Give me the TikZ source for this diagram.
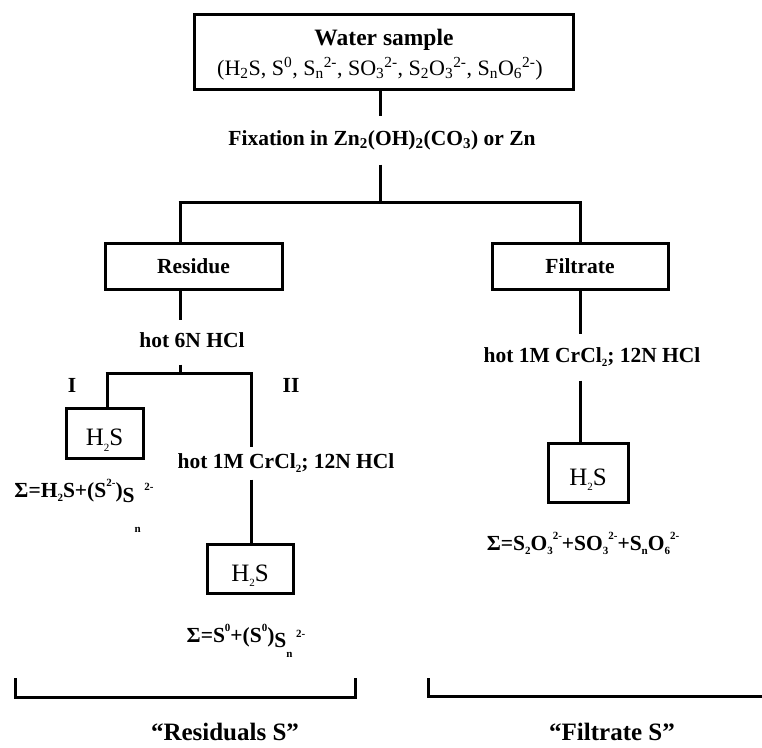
\documentclass[tikz,border=0pt]{standalone}
\usepackage{fontspec}
\setmainfont{Liberation Serif}
\newcommand{\lo}[1]{\raisebox{-0.22em}{\fontsize{11}{11}\selectfont #1}}
\newcommand{\hi}[1]{\raisebox{0.5em}{\fontsize{11}{11}\selectfont #1}}
\newcommand{\bfnt}{\fontsize{21.5}{24}\selectfont\bfseries}
\newcommand{\rfnt}{\fontsize{22}{24}\selectfont}
\newcommand{\hfnt}{\fontsize{25}{27}\selectfont}
\newcommand{\bigbf}{\fontsize{25}{27}\selectfont\bfseries}
\begin{document}
\begin{tikzpicture}[x=1pt,y=-1pt,
  every path/.style={line width=3pt},
  box/.style={draw, line width=3pt, inner sep=2pt},
  hbox/.style={box, font=\hfnt, text height=25pt, text depth=0pt},
  lbl/.style={font=\bfnt, anchor=base, text height=14pt, text depth=4pt, inner xsep=2pt}]
\useasboundingbox (0,0) rectangle (762,747);
% top box
\node[box, minimum width=379pt, minimum height=75pt] (top) at (383.5,51.5) {};
\node[anchor=base, font=\fontsize{23.5}{26}\selectfont\bfseries] (ws) at (384,45) {Water sample};
\node[anchor=base, font=\rfnt] (wf) at (380,75) {(H\textsubscript{2}S, S\textsuperscript{0}, S\textsubscript{n}\textsuperscript{2-}, SO\textsubscript{3}\textsuperscript{2-}, S\textsubscript{2}O\textsubscript{3}\textsuperscript{2-}, S\textsubscript{n}O\textsubscript{6}\textsuperscript{2-})};
\node[lbl, inner ysep=14pt] (fix) at (382,145) {Fixation in Zn\textsubscript{2}(OH)\textsubscript{2}(CO\textsubscript{3}) or Zn};
% second level
\node[box, font=\bfnt, minimum width=177pt, minimum height=46pt, text height=14pt, text depth=0pt] (res) at (193.5,266) {Residue};
\node[box, font=\bfnt, minimum width=176pt, minimum height=46pt, text height=14pt, text depth=0pt] (fil) at (580,266) {Filtrate};
\coordinate (j0) at (380,202);
\coordinate (jl) at (180,202);
\coordinate (jr) at (580,202);
% residue branch
\node[lbl, inner ysep=12pt] (hot6) at (192,347) {hot 6N HCl};
\coordinate (k0) at (180,373);
\coordinate (kl) at (107,373);
\coordinate (kr) at (251,373);
\node[lbl] (one) at (72,392) {I};
\node[lbl] (two) at (291,392) {II};
\node[hbox, minimum width=77pt, minimum height=50pt] (h2a) at (104.5,433) {H\lo{2}S};
\node[lbl, inner ysep=6pt] (hot1a) at (286,468) {hot 1M CrCl\lo{2}; 12N HCl};
\node[hbox, minimum width=86pt, minimum height=49pt] (h2b) at (250,568.5) {H\lo{2}S};
\node[anchor=base, font=\bfnt] (sa) at (84,497) {Σ=H\lo{2}S+(S\hi{2-})\raisebox{-5pt}{S}\raisebox{-35pt}{\fontsize{11}{11}\selectfont n}\,\raisebox{7pt}{\fontsize{11}{11}\selectfont 2-}};
\node[anchor=base, font=\bfnt] (sb) at (246,642) {Σ=S\hi{0}+(S\hi{0})\raisebox{-5pt}{S}\raisebox{-15pt}{\fontsize{11}{11}\selectfont n}\,\raisebox{5pt}{\fontsize{11}{11}\selectfont 2-}};
% filtrate branch
\node[lbl, inner ysep=13pt] (hot1b) at (592,362) {hot 1M CrCl\lo{2}; 12N HCl};
\node[hbox, minimum width=80pt, minimum height=59pt] (h2c) at (588,472.5) {H\lo{2}S};
\node[anchor=base, font=\bfnt] (sc) at (583,550) {Σ=S\lo{2}O\lo{3}\hi{2-}+SO\lo{3}\hi{2-}+S\lo{n}O\lo{6}\hi{2-}};
% connectors
\draw (top.south -| j0) -- (fix.north -| j0);
\draw (fix.south -| j0) -- (j0);
\draw ([xshift=-1.5pt]jl) -- ([xshift=1.5pt]jr);
\draw (jl) -- (res.north -| jl);
\draw (jr) -- (fil.north -| jr);
\draw (res.south -| k0) -- (hot6.north -| k0);
\draw (hot6.south -| k0) -- (k0);
\draw ([xshift=-1.5pt]kl) -- ([xshift=1.5pt]kr);
\draw (kl) -- (h2a.north -| kl);
\draw (kr) -- (hot1a.north -| kr);
\draw (hot1a.south -| kr) -- (h2b.north -| kr);
\draw (fil.south) -- (hot1b.north -| fil.south);
\draw (hot1b.south -| fil.south) -- (h2c.north -| fil.south);
% brackets
\coordinate (ba) at (15,678);
\coordinate (bb) at (355,678);
\coordinate (bc) at (428,678);
\coordinate (bd) at (762,696);
\draw (ba) |- (bb |- 0,697) -- (bb);
\draw (bc) |- (bd);
\node[anchor=base, font=\bigbf, inner sep=1pt] (rs) at (225,740) {``Residuals S''};
\node[anchor=base, font=\bigbf, inner sep=1pt] (fs) at (612,740) {``Filtrate S''};
\end{tikzpicture}
\end{document}
